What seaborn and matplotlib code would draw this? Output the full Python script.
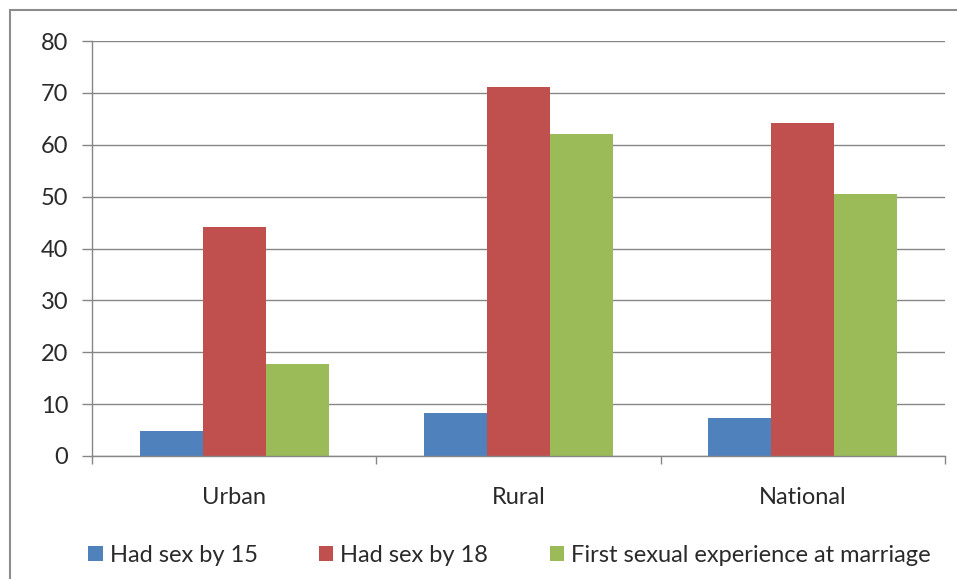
import matplotlib
matplotlib.use("Agg")
import matplotlib.pyplot as plt
import seaborn as sns
import pandas as pd
from matplotlib.patches import Rectangle, Patch

categories = ["Urban", "Rural", "National"]
series_names = ["Had sex by 15", "Had sex by 18", "First sexual experience at marriage"]
had_sex_15 = [4.8, 8.3, 7.3]
had_sex_18 = [44.2, 71.1, 64.2]
first_at_marriage = [17.7, 62.0, 50.6]
colors = ["#4F81BD", "#C0504D", "#9BBB59"]
y_ticks = [0, 10, 20, 30, 40, 50, 60, 70, 80]

rows = []
for name, vals in zip(series_names, [had_sex_15, had_sex_18, first_at_marriage]):
    for c, v in zip(categories, vals):
        rows.append({"Area": c, "Series": name, "Value": v})
df = pd.DataFrame(rows)

sns.set_style("white")
plt.rcParams["font.family"] = ["Lato", "DejaVu Sans"]

W, H = 957, 579
fig = plt.figure(figsize=(W / 100, H / 100), dpi=100)
ax = fig.add_axes([92 / W, 1 - 456 / H, (945 - 92) / W, (456 - 41) / H])

sns.barplot(data=df, x="Area", y="Value", hue="Series", order=categories,
            hue_order=series_names, palette=colors, width=0.665,
            saturation=1, edgecolor="none", linewidth=0, ax=ax, legend=False)

grid_c = "#868686"
ax.set_xlim(-0.5, 2.5)
ax.set_ylim(0, 80)
ax.set_yticks(y_ticks)
ax.yaxis.grid(True, color=grid_c, linewidth=1.0)
ax.set_axisbelow(True)
for s in ["top", "right"]:
    ax.spines[s].set_visible(False)
ax.spines["left"].set_color(grid_c)
ax.spines["bottom"].set_color(grid_c)
ax.spines["left"].set_linewidth(1.0)
ax.spines["bottom"].set_linewidth(1.0)
ax.set_xlabel("")
ax.set_ylabel("")
text_c = "#2a2a2a"
fs = 17
ax.tick_params(axis="y", direction="out", length=7, width=1, color=grid_c,
               labelsize=fs, labelcolor=text_c, pad=10, left=True)
ax.set_xticks([-0.5, 0.5, 1.5, 2.5], minor=True)
ax.tick_params(axis="x", which="minor", direction="out", length=6, width=1, color=grid_c, bottom=True)
ax.tick_params(axis="x", which="major", length=0, labelsize=fs, labelcolor=text_c, pad=22)

# outer chart border
fig.patches.append(Rectangle((10 / W, -0.2), 1.2, 1 - 10 / H + 0.2, transform=fig.transFigure,
                             fill=False, edgecolor="#8c8c8c", linewidth=1.5, zorder=-1))

handles = [Patch(facecolor=c, edgecolor="none") for c in colors]
fig.legend(handles, series_names, loc="center", bbox_to_anchor=(509.5 / W, 1 - 555 / H),
           ncol=3, frameon=False, fontsize=fs, handlelength=0.6, handleheight=0.6,
           handletextpad=0.3, columnspacing=2.6, labelcolor=text_c)

fig.savefig("out.png", dpi=100)
